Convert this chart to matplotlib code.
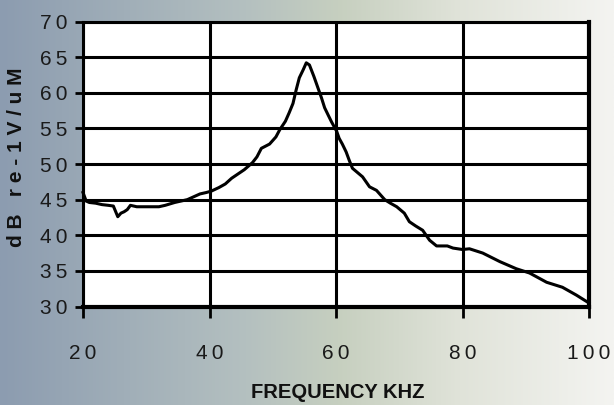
import numpy as np
import matplotlib.pyplot as plt
from matplotlib.colors import LinearSegmentedColormap

freq = [20.0, 20.5, 21.0, 22.0, 23.0, 24.0, 24.8, 25.5, 26.0, 26.5, 27.0, 27.5,
        28.5, 30.0, 32.0, 33.0, 34.5, 35.5, 36.5, 37.5, 38.5, 39.5, 40.3, 41.5,
        42.5, 43.5, 44.5, 45.5, 46.8, 47.5, 48.2, 49.5, 50.5, 51.1, 52.0, 52.6,
        53.2, 53.7, 54.2, 54.8, 55.3, 55.8, 56.5, 57.1, 57.7, 58.2, 58.8, 59.3,
        60.1, 60.5, 61.0, 61.6, 62.1, 62.6, 63.4, 64.2, 65.3, 66.4, 67.7, 68.6,
        69.6, 70.8, 71.6, 72.6, 73.7, 74.8, 75.9, 77.6, 78.5, 80.0, 81.1, 83.2,
        85.9, 88.5, 90.6, 93.3, 95.8, 98.0, 99.8, 100.0]
level = [46.0, 44.8, 44.6, 44.5, 44.3, 44.2, 44.1, 42.6, 43.1, 43.3, 43.6, 44.2,
         44.0, 44.0, 44.0, 44.2, 44.6, 44.8, 45.0, 45.4, 45.8, 46.0, 46.2, 46.7,
         47.2, 48.0, 48.6, 49.2, 50.2, 51.0, 52.2, 52.8, 53.8, 54.8, 56.0, 57.2,
         58.5, 60.4, 62.1, 63.2, 64.2, 63.9, 62.3, 60.8, 59.3, 57.9, 56.8, 55.9,
         54.6, 53.6, 52.8, 51.7, 50.5, 49.4, 48.8, 48.2, 46.8, 46.3, 45.0, 44.5,
         44.0, 43.1, 41.9, 41.3, 40.7, 39.3, 38.5, 38.5, 38.2, 38.0, 38.1, 37.5,
         36.3, 35.3, 34.7, 33.4, 32.7, 31.6, 30.6, 30.5]

xticks = [20, 40, 60, 80, 100]
yticks = [30, 35, 40, 45, 50, 55, 60, 65, 70]

fig = plt.figure(figsize=(6.14, 4.05), dpi=100)

# gradient background
bg = fig.add_axes([0, 0, 1, 1], zorder=-10)
cmap = LinearSegmentedColormap.from_list(
    "bg", [(0.0, "#8c9cb0"), (0.4, "#b4c0c0"), (0.55, "#c6cfbf"),
           (0.75, "#e0e3d9"), (1.0, "#f4f4f1")])
bg.imshow(np.linspace(0, 1, 256)[None, :], aspect="auto", cmap=cmap,
          extent=[0, 1, 0, 1])
bg.axis("off")

ax = fig.add_axes([83 / 614, 1 - 306.5 / 405, (589 - 83) / 614, (306.5 - 21.5) / 405])
ax.set_facecolor("white")
ax.plot(freq, level, color="black", lw=2.2, clip_on=False, zorder=3)

ax.set_xlim(20, 100)
ax.set_ylim(30, 70)
ax.set_xticks(xticks)
ax.set_yticks(yticks)
ax.set_xticklabels(["\u2009".join(str(t)) for t in xticks])
ax.set_yticklabels(["\u2009".join(str(t)) for t in yticks])
ax.grid(True, color="black", lw=2.2)
ax.tick_params(axis="x", length=8, width=2, pad=19, labelsize=15)
ax.tick_params(axis="y", length=6, width=2, pad=5, labelsize=15)
for lab in ax.get_xticklabels() + ax.get_yticklabels():
    lab.set_family("Liberation Sans")
    lab.set_color("#1a1a1a")

for side, w in [("top", 2.2), ("left", 2.2), ("bottom", 3), ("right", 3)]:
    ax.spines[side].set_linewidth(w)
    ax.spines[side].set_color("black")

fig.text(338 / 614, 1 - 392 / 405, "FREQUENCY KHZ", ha="center", va="center",
         fontsize=14.5, fontweight="bold", family="Liberation Sans", color="#111111")
fig.text(17 / 614, 1 - 157 / 405, "d B   r e - 1 V / u M", rotation=90,
         ha="center", va="center", fontsize=15, fontweight="bold",
         family="Liberation Sans", color="#111111")

fig.savefig("out.png", dpi=100)
